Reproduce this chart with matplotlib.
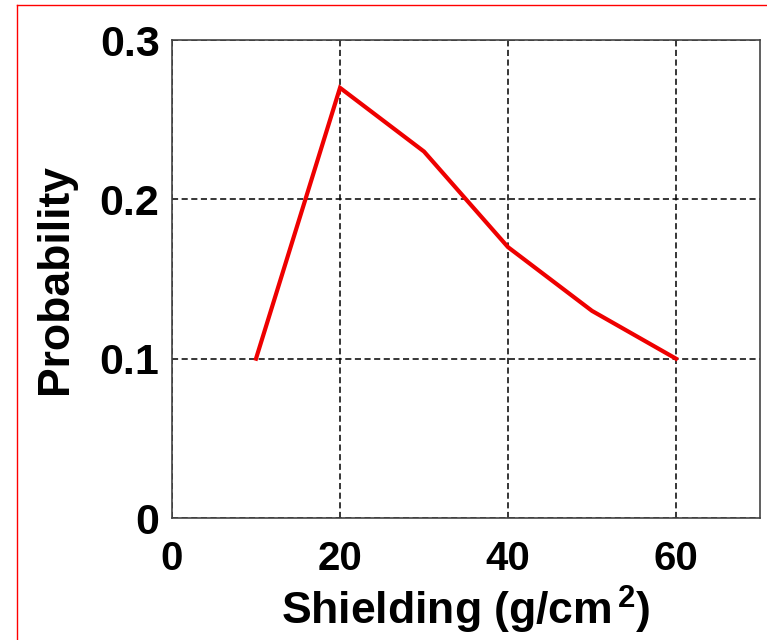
import numpy as np
import matplotlib
matplotlib.use('Agg')
import matplotlib.pyplot as plt
from matplotlib.lines import Line2D

plt.rcParams['font.family'] = ['Liberation Sans', 'DejaVu Sans']
plt.rcParams['font.weight'] = 'bold'
plt.rcParams['mathtext.fontset'] = 'custom'
plt.rcParams['mathtext.rm'] = 'Liberation Sans:bold'
plt.rcParams['mathtext.bf'] = 'Liberation Sans:bold'
plt.rcParams['mathtext.it'] = 'Liberation Sans:bold'

shielding = [10, 20, 30, 40, 50, 60]
probability = [0.10, 0.27, 0.23, 0.17, 0.13, 0.10]
xticks = [0, 20, 40, 60]
yticks = [0, 0.1, 0.2, 0.3]
ytick_labels = ['0', '0.1', '0.2', '0.3']

fig = plt.figure(figsize=(7.67, 6.4), dpi=100)
ax = fig.add_axes([172/767, 1 - 518/640, (760 - 172)/767, (518 - 40)/640])

ax.plot(shielding, probability, color='#ee0000', lw=3.0, solid_joinstyle='miter')

ax.set_xlim(0, 70)
ax.set_ylim(0, 0.3)
ax.set_xticks(xticks)
ax.set_yticks(yticks)
ax.set_yticklabels(ytick_labels)
ax.tick_params(direction='in', length=0, colors='black')
ax.tick_params(axis='x', pad=16, labelsize=29)
ax.tick_params(axis='y', pad=9, labelsize=31)

ax.grid(True, color='black', lw=1.1, linestyle=(0, (4.0, 2.3)))
for s in ax.spines.values():
    s.set_color('#444444')
    s.set_linewidth(1.2)

ax.set_xlabel('Shielding (g/cm$^{\\,\\mathbf{2}}$)', fontsize=32, fontweight='bold', labelpad=4)
ax.set_ylabel('Probability', fontsize=32, fontweight='bold', labelpad=17)

# red frame from the original page
fig.add_artist(Line2D([17/767, 17/767], [0, 1 - 5/640], color='red', lw=1.0))
fig.add_artist(Line2D([17/767, 1], [1 - 5/640, 1 - 5/640], color='red', lw=1.0))

fig.savefig('out.png', dpi=100)
